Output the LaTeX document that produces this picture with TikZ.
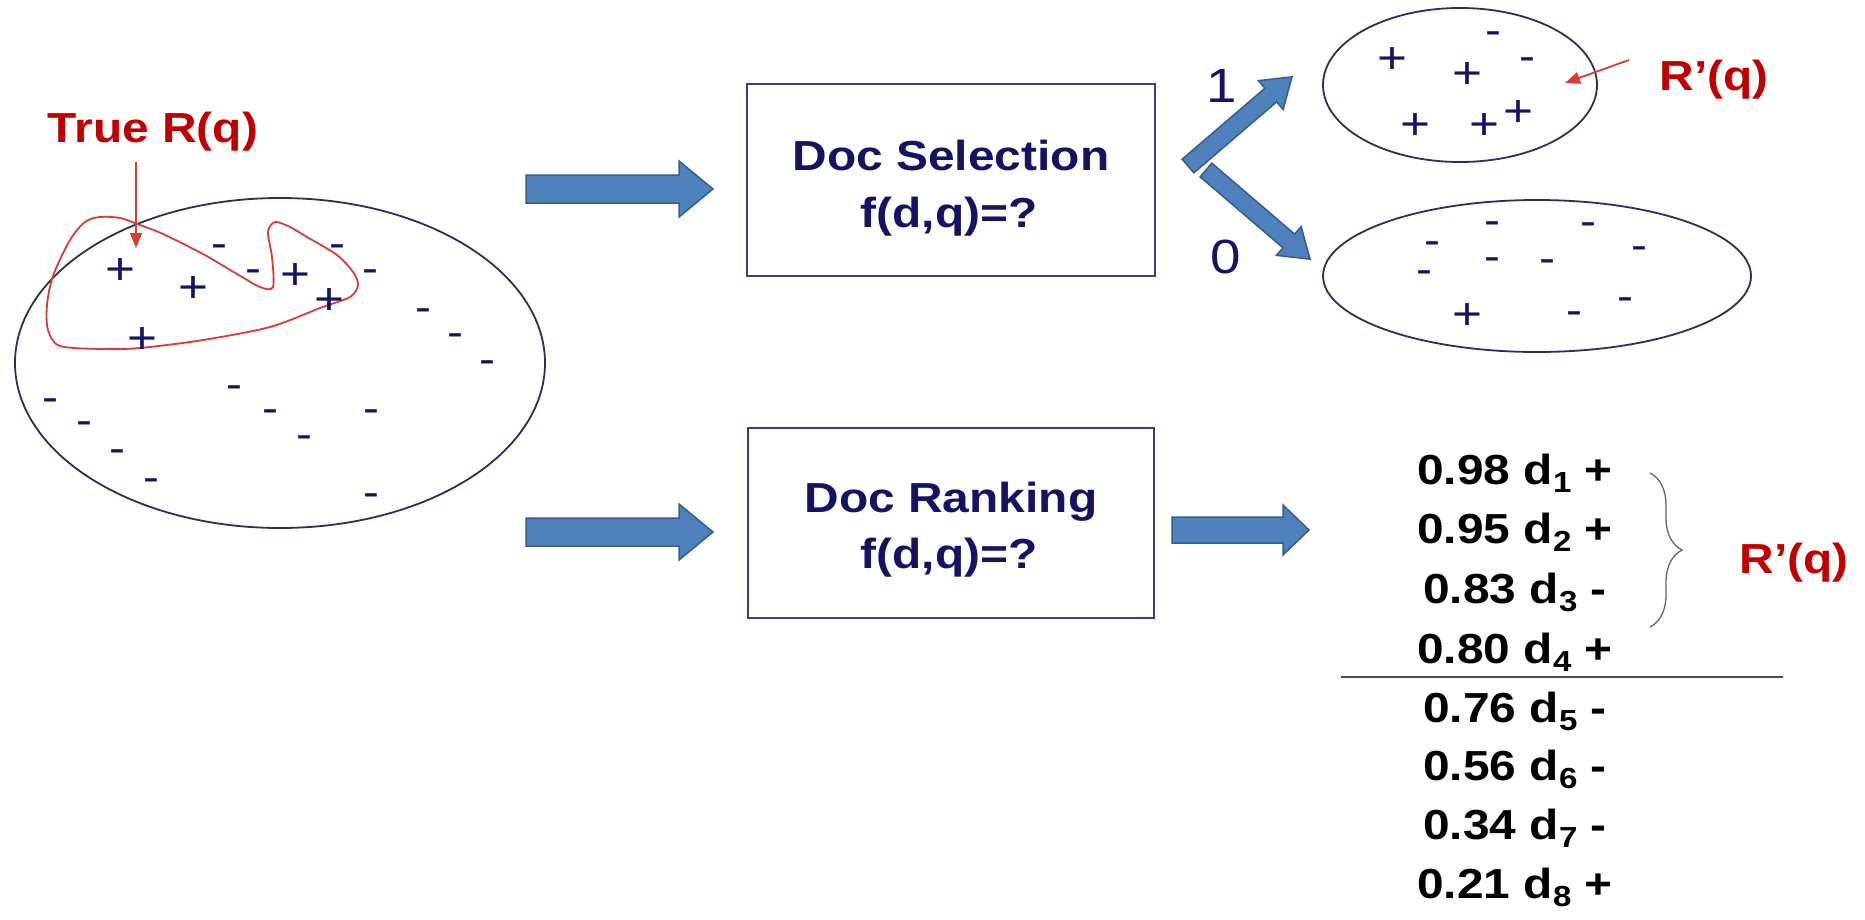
\documentclass[tikz,border=0pt]{standalone}
\usepackage{fontspec}
\setmainfont{Liberation Sans}[FakeStretch=1.14]
\usetikzlibrary{arrows.meta,decorations.pathreplacing,shapes.geometric}
\definecolor{navy}{RGB}{20,20,100}
\definecolor{edgenavy}{RGB}{45,45,95}
\definecolor{boxedge}{RGB}{60,60,130}
\definecolor{redtxt}{RGB}{192,0,0}
\definecolor{loopred}{RGB}{215,60,55}
\definecolor{arrowfill}{RGB}{79,129,189}
\definecolor{arrowedge}{RGB}{56,93,138}
\newcommand\sbs[1]{\raisebox{-8pt}{\fontsize{29}{29}\selectfont#1}}
\begin{document}
\begin{tikzpicture}[x=1pt,y=-1pt,
  lbl/.style={font=\fontsize{42}{50}\selectfont\bfseries, text=navy, inner sep=0, anchor=base},
  redlbl/.style={font=\fontsize{42}{50}\selectfont\bfseries, text=redtxt, inner sep=0, anchor=base},
  digit/.style={font=\fontsize{48}{48}\selectfont, text=navy, inner sep=0},
  pl/.style={font=\fontsize{45}{45}\selectfont, text=navy, inner sep=0, anchor=base, yshift=-16pt},
  mi/.style={font=\fontsize{42}{42}\selectfont, text=navy, inner sep=0, anchor=base, yshift=-11pt},
  setshape/.style={ellipse, draw=edgenavy, line width=1.8pt, inner sep=0},
  boxstyle/.style={draw=boxedge, line width=1.8pt, inner sep=0},
  blk/.style={fill=arrowfill, draw=arrowedge, line width=1.5pt, line join=miter},
  rank/.style={font=\fontsize{42}{42}\selectfont\bfseries, text=black, inner sep=0, anchor=base},
  redarrow/.style={draw=loopred, line width=1.8pt, -{Triangle[length=15pt,width=12pt]}},
  ]
\useasboundingbox (0,0) rectangle (1865,919);
\fill[white] (0,0) rectangle (1865,919);

% ---------- big collection ----------
\node[setshape, minimum width=530pt, minimum height=330pt] (univ) at (280,363) {};
\draw[loopred, line width=1.8pt] plot[smooth cycle, tension=0.5] coordinates {
  (100,217) (120,218) (140,225) (163,234) (203,254) (237,274) (260,287) (273,287)
  (272,257) (268,232) (275,222) (290,227) (307,237) (337,255) (353,272) (358,285)
  (350,297) (320,308) (270,327) (203,340) (140,348) (103,349) (60,346) (48,330)
  (47,305) (53,276) (70,240) (85,222)};
\node[redlbl] (trq) at (153,142) {True R(q)};
\coordinate (trqa) at (136,162);
\coordinate (trqtip) at (136,248);
\draw[redarrow] (trqa) -- (trqtip);
\foreach \x/\y [count=\i] in {120/268,193/286,295/273,329/298,142/337}
  \node[pl] (bp\i) at (\x,\y) {+};
\foreach \x/\y [count=\i] in {219/246,337/246,253/271,370/271,423/310,455/335,487/362,
  50/400,84/423,117/451,151/480,234/387,270/411,304/437,371/411,371/495}
  \node[mi] (bm\i) at (\x,\y) {-};

% ---------- block arrows ----------
\draw[blk] (526,175) -- (679,175) -- (679,161) -- (713,189) -- (679,217) -- (679,203) -- (526,203) -- cycle;
\draw[blk] (526,518) -- (679,518) -- (679,504) -- (713,532) -- (679,560) -- (679,546) -- (526,546) -- cycle;
\draw[blk] (1172,517) -- (1283,517) -- (1283,505) -- (1309,530) -- (1283,555) -- (1283,543) -- (1172,543) -- cycle;

% ---------- boxes ----------
\node[boxstyle, minimum width=408pt, minimum height=192pt] (sel) at (951,180) {};
\node[lbl] (selt1) at (951,170) {Doc Selection};
\node[lbl] (selt2) at (949,227) {f(d,q)=?};
\node[boxstyle, minimum width=406pt, minimum height=190pt] (rnk) at (951,523) {};
\node[lbl] (rnkt1) at (951,512) {Doc Ranking};
\node[lbl] (rnkt2) at (949,568) {f(d,q)=?};

% ---------- branch arrows ----------
\begin{scope}[shift={(1188,166)}, rotate=40.6]
  \draw[blk] (0,9) -- (109,9) -- (109,19) -- (137,0) -- (109,-19) -- (109,-9) -- (0,-9) -- cycle;
\end{scope}
\begin{scope}[shift={(1206,170)}, rotate=-40.6]
  \draw[blk] (0,9) -- (109,9) -- (109,19) -- (137,0) -- (109,-19) -- (109,-9) -- (0,-9) -- cycle;
\end{scope}
\node[digit] (one) at (1222,86) {1};
\node[digit] (zero) at (1226,257) {0};

% ---------- selected set ----------
\node[setshape, minimum width=274pt, minimum height=154pt] (selset) at (1460,85) {};
\foreach \x/\y [count=\i] in {1392/57,1467/72,1415/123,1484/123,1518/110}
  \node[pl] (sp\i) at (\x,\y) {+};
\foreach \x/\y [count=\i] in {1493/33,1527/59}
  \node[mi] (sm\i) at (\x,\y) {-};
\node[redlbl] (rq1) at (1714,90) {R’(q)};
\coordinate (rqa) at (1629,60);
\coordinate (rqtip) at (1565,83);
\draw[redarrow] (rqa) -- (rqtip);

% ---------- rejected set ----------
\node[setshape, minimum width=428pt, minimum height=152pt] (rejset) at (1537,276) {};
\foreach \x/\y [count=\i] in {1492/223,1588/224,1432/243,1639/248,1492/259,1547/261,1424/272,1625/299,1574/313}
  \node[mi] (rm\i) at (\x,\y) {-};
\node[pl] (rp1) at (1467,313) {+};

% ---------- ranked list ----------
\node[rank] (r1) at (1515,484) {0.98 d\sbs{1} +};
\node[rank] (r2) at (1515,543) {0.95 d\sbs{2} +};
\node[rank] (r3) at (1515,603) {0.83 d\sbs{3} -};
\node[rank] (r4) at (1515,663) {0.80 d\sbs{4} +};
\node[rank] (r5) at (1515,722) {0.76 d\sbs{5} -};
\node[rank] (r6) at (1515,780) {0.56 d\sbs{6} -};
\node[rank] (r7) at (1515,839) {0.34 d\sbs{7} -};
\node[rank] (r8) at (1515,898) {0.21 d\sbs{8} +};
\coordinate (cutl) at (1341,677);
\coordinate (cutr) at (1783,677);
\draw[draw=black!70, line width=2pt] (cutl) -- (cutr);
\coordinate (brt) at (1650,473);
\coordinate (brb) at (1650,627);
\draw[draw=black!60, line width=1.3pt, decorate, decoration={brace, amplitude=32pt}] (brt) -- (brb);
\node[redlbl] (rq2) at (1794,573) {R’(q)};
\end{tikzpicture}
\end{document}
